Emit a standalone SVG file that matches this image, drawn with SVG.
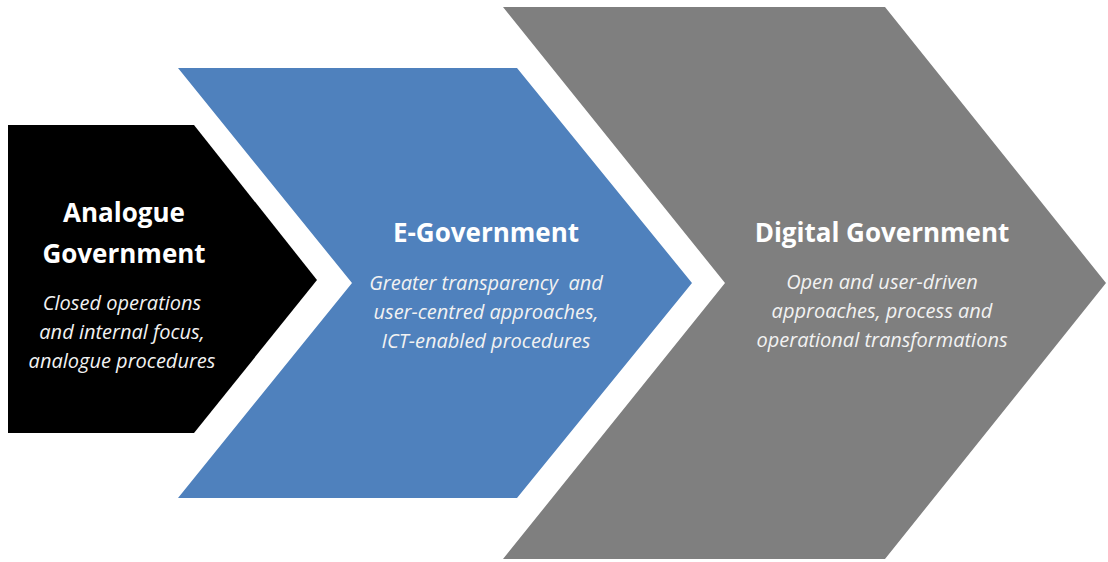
<svg xmlns="http://www.w3.org/2000/svg" width="1108" height="562" viewBox="0 0 1108 562">
<style>
.title{font-family:"Open Sans","Liberation Sans",sans-serif;font-weight:bold;font-size:26px;fill:#FFFFFF;text-anchor:middle}
.desc{font-family:"Open Sans","Liberation Sans",sans-serif;font-style:italic;font-size:20px;fill:#F2F2F2;text-anchor:middle}
</style>
<rect width="1108" height="562" fill="#FFFFFF"/>
<g id="analogue">
<polygon points="8,125 194,125 317,280 194,433 8,433" fill="#000000"/>
<text class="title" x="124" y="222">Analogue</text>
<text class="title" x="124" y="263">Government</text>
<text class="desc" x="122" y="310">Closed operations</text>
<text class="desc" x="122" y="339">and internal focus,</text>
<text class="desc" x="122" y="368">analogue procedures</text>
</g>
<g id="egov">
<polygon points="178,68 517,68 692,283 517,498 178,498 352,283" fill="#4F81BD"/>
<text class="title" x="486" y="242">E-Government</text>
<text class="desc" x="486" y="290">Greater transparency&#160; and</text>
<text class="desc" x="486" y="319">user-centred approaches,</text>
<text class="desc" x="486" y="348">ICT-enabled procedures</text>
</g>
<g id="digital">
<polygon points="503,7 885,7 1106,283 885,559 503,559 725,283" fill="#7F7F7F"/>
<text class="title" x="882" y="242">Digital Government</text>
<text class="desc" x="882" y="289">Open and user-driven</text>
<text class="desc" x="882" y="318">approaches, process and</text>
<text class="desc" x="882" y="347">operational transformations</text>
</g>
<g id="connectors"/>
</svg>
